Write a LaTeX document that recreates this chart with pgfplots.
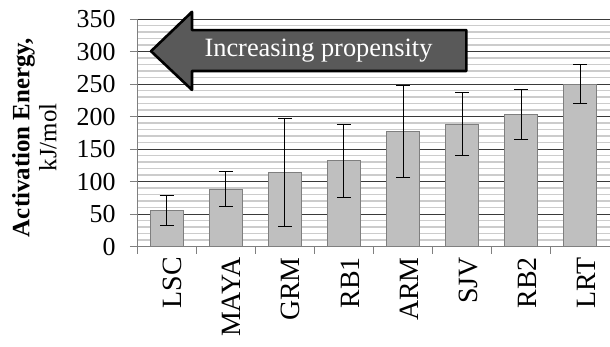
\documentclass[border=0pt]{standalone}
\usepackage{fontspec}
\setmainfont{Liberation Serif}
\usepackage{pgfplots}
\pgfplotsset{compat=1.18}
\definecolor{barfill}{HTML}{BFBFBF}
\definecolor{baredge}{HTML}{7F7F7F}
\definecolor{arrowgray}{HTML}{595959}
\definecolor{minorgrid}{HTML}{CCCCCC}
\definecolor{majorgrid}{HTML}{3A3A3A}
\begin{document}
\begin{tikzpicture}
\useasboundingbox (0,0) rectangle (610bp,347bp);
\begin{axis}[
  at={(137bp,100.3bp)}, anchor=south west,
  scale only axis, width=473bp, height=227.7bp,
  xmin=-0.5, xmax=7.5, ymin=0, ymax=350,
  clip=false,
  axis lines=left, axis line style={-, draw=baredge, line width=0.8bp},
  ytick={0,50,...,350},
  minor y tick num=4,
  ymajorgrids, yminorgrids,
  major grid style={draw=majorgrid, line width=1bp},
  minor grid style={draw=minorgrid, line width=1.5bp},
  xtick={0,...,7},
  xticklabels={LSC,MAYA,GRM,RB1,ARM,SJV,RB2,LRT},
  minor xtick={-0.5,0.5,...,7.5},
  tick align=outside,
  major tick length=7bp,
  minor tick length=7bp,
  x tick style={draw=baredge, line width=0.8bp},
  major x tick style={draw=none},
  y tick style={draw=baredge, line width=0.8bp},
  minor y tick style={draw=none},
  xticklabel style={rotate=90, anchor=east, font=\fontsize{28}{30}\selectfont, yshift=-6bp},
  yticklabel style={font=\fontsize{26}{28}\selectfont, xshift=-11bp},
  /pgf/number format/assume math mode=true,
  ylabel={\textbf{Activation Energy,}\\kJ/mol},
  ylabel style={at={(axis description cs:-0.217,0.48)}, anchor=center, align=center, font=\fontsize{25}{27}\selectfont},
  ybar, bar width=33bp,
]
\addplot[fill=barfill, draw=baredge, line width=1bp,
  error bars/.cd, y dir=both, y explicit,
  error bar style={draw=black, line width=1.1bp},
  error mark options={rotate=90, mark size=7bp, line width=1.1bp, draw=black}]
  table[x=x, y=y, y error=e] {
x y e
0 55.5 23
1 88.5 27
2 114.5 83
3 132 56
4 177 71
5 188.5 48
6 203 38
7 250 30.5
};
\draw[fill=arrowgray, draw=black, line width=2.6bp, line join=round]
  (axis cs:-0.263,300.5) -- (axis cs:0.43,361) -- (axis cs:0.43,333)
  -- (axis cs:5.07,333) -- (axis cs:5.07,270) -- (axis cs:0.43,270)
  -- (axis cs:0.43,241) -- cycle;
\node[text=white, font=\fontsize{26.5}{28}\selectfont] at (axis cs:2.57,301) {Increasing propensity};
\end{axis}
\end{tikzpicture}
\end{document}
